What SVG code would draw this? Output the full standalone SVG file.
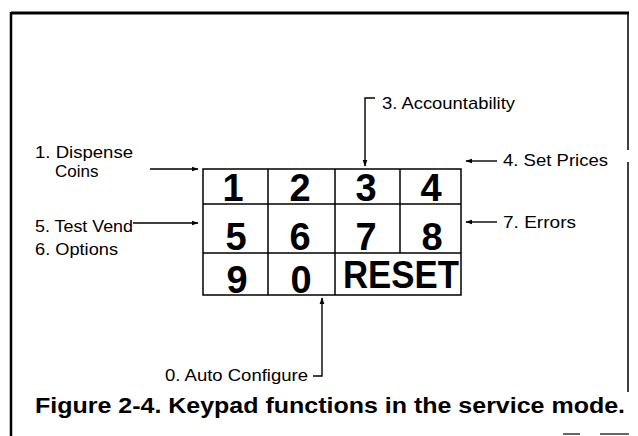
<svg xmlns="http://www.w3.org/2000/svg" width="638" height="436" viewBox="0 0 638 436">
<style>
.frame{stroke:#000;fill:none}
.grid{stroke:#000;fill:none;stroke-width:1.5}
.key{font-family:"Liberation Sans",Arial,sans-serif;font-weight:bold;font-size:38px;text-anchor:middle;fill:#000}
.lbl{font-family:"Liberation Sans",Arial,sans-serif;font-size:17px;fill:#000}
.cap{font-family:"Liberation Sans",Arial,sans-serif;font-weight:bold;font-size:22px;fill:#000}
.conn{stroke:#000;stroke-width:1.4;fill:none}
</style>
<defs>
<marker id="ah" viewBox="0 0 10 10" refX="9" refY="5" markerWidth="7" markerHeight="7" orient="auto" markerUnits="userSpaceOnUse">
<path d="M0,1.5 L10,5 L0,8.5 Z" fill="#000"/>
</marker>
</defs>
<rect width="638" height="436" fill="#fff"/>
<g id="frame">
<line class="frame" x1="11" y1="13" x2="629" y2="13" stroke-width="3"/>
<line class="frame" x1="11" y1="12" x2="11" y2="436" stroke-width="2.5"/>
<line class="frame" x1="628" y1="12" x2="628" y2="150" stroke-width="1.5"/>
<line class="frame" x1="628" y1="162" x2="628" y2="392" stroke-width="1.5"/>
<line class="frame" x1="563" y1="434" x2="580" y2="434" stroke-width="1.2"/>
<line class="frame" x1="600" y1="434" x2="629" y2="434" stroke-width="1.2"/>
</g>
<g id="keypad">
<rect class="grid" x="203" y="169" width="258" height="126" stroke-width="2"/>
<line class="grid" x1="203" y1="204" x2="461" y2="204"/>
<line class="grid" x1="203" y1="253" x2="461" y2="253"/>
<line class="grid" x1="268" y1="169" x2="268" y2="295"/>
<line class="grid" x1="335" y1="169" x2="335" y2="295"/>
<line class="grid" x1="400" y1="169" x2="400" y2="253"/>
</g>
<g id="key-1"><text class="key" x="233" y="201">1</text></g>
<g id="key-2"><text class="key" x="300" y="201">2</text></g>
<g id="key-3"><text class="key" x="366" y="201">3</text></g>
<g id="key-4"><text class="key" x="431" y="201">4</text></g>
<g id="key-5"><text class="key" x="236" y="250">5</text></g>
<g id="key-6"><text class="key" x="300" y="250">6</text></g>
<g id="key-7"><text class="key" x="366" y="250">7</text></g>
<g id="key-8"><text class="key" x="432" y="250">8</text></g>
<g id="key-9"><text class="key" x="237" y="293">9</text></g>
<g id="key-0"><text class="key" x="301" y="293">0</text></g>
<g id="key-reset"><text class="key" x="401" y="288" textLength="116" lengthAdjust="spacingAndGlyphs">RESET</text></g>
<g id="label-1"><text class="lbl" x="35" y="158" textLength="98" lengthAdjust="spacingAndGlyphs">1. Dispense</text><text class="lbl" x="55" y="177">Coins</text></g>
<g id="label-5"><text class="lbl" x="35" y="232" textLength="98" lengthAdjust="spacingAndGlyphs">5. Test Vend</text></g>
<g id="label-6"><text class="lbl" x="35" y="255" textLength="83" lengthAdjust="spacingAndGlyphs">6. Options</text></g>
<g id="label-3"><text class="lbl" x="382" y="109" textLength="133" lengthAdjust="spacingAndGlyphs">3. Accountability</text></g>
<g id="label-4"><text class="lbl" x="503" y="166" textLength="105" lengthAdjust="spacingAndGlyphs">4. Set Prices</text></g>
<g id="label-7"><text class="lbl" x="503" y="228" textLength="73" lengthAdjust="spacingAndGlyphs">7. Errors</text></g>
<g id="label-0"><text class="lbl" x="165" y="381" textLength="143" lengthAdjust="spacingAndGlyphs">0. Auto Configure</text></g>
<g id="connectors">
<line class="conn" x1="150" y1="169" x2="198" y2="169" marker-end="url(#ah)"/>
<line class="conn" x1="133" y1="223" x2="198" y2="223" marker-end="url(#ah)"/>
<line class="conn" x1="497" y1="161" x2="466" y2="161" marker-end="url(#ah)"/>
<line class="conn" x1="497" y1="222" x2="466" y2="222" marker-end="url(#ah)"/>
<polyline class="conn" points="375,98 365,98 365,166" marker-end="url(#ah)"/>
<polyline class="conn" points="313,376 322,376 322,298" marker-end="url(#ah)"/>
</g>
<g id="caption"><text class="cap" x="35" y="413" textLength="590" lengthAdjust="spacingAndGlyphs">Figure 2-4. Keypad functions in the service mode.</text></g>
</svg>
